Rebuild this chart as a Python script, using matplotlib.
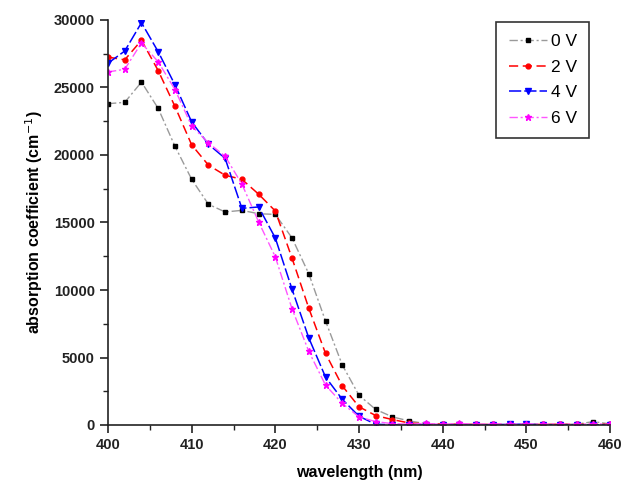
import matplotlib
matplotlib.use("Agg")
import matplotlib.pyplot as plt
from matplotlib.ticker import MultipleLocator

# wavelength grid (nm), one point every 2 nm
wavelength = list(range(400, 462, 2))

# absorption coefficient (cm^-1)
v0 = [23800, 23900, 25400, 23450, 20650, 18200, 16350, 15780, 15900, 15650,
      15600, 13850, 11200, 7700, 4450, 2200, 1150, 600, 300, 100,
      60, 40, 30, 30, 40, 30, 30, 40, 60, 250, 80]
v2 = [27250, 27050, 28500, 26250, 23600, 20750, 19250, 18500, 18200, 17100,
      15850, 12350, 8650, 5300, 2900, 1350, 700, 400, 150, 80,
      60, 50, 40, 40, 50, 40, 40, 50, 40, 60, 50]
v4 = [26800, 27700, 29800, 27650, 25200, 22450, 20800, 19750, 16050, 16150,
      13850, 10050, 6450, 3550, 1900, 650, 50, 20, 20, 20,
      20, 20, 20, 20, 40, 60, 20, 20, 20, 20, 20]
v6 = [26150, 26350, 28300, 26900, 24850, 22150, 20900, 19900, 17850, 15050,
      12450, 8600, 5450, 2950, 1600, 600, 250, 100, 60, 120,
      40, 120, 40, 100, 40, 100, 40, 100, 40, 100, 40]

labels = ["0 V", "2 V", "4 V", "6 V"]

fig = plt.figure(figsize=(6.33, 4.88), dpi=100)
ax = fig.add_axes([108 / 633, 63 / 488, 502 / 633, 405 / 488])

ax.plot(wavelength, v0, color="#9a9a9a", ls=(0, (6, 2, 1.5, 2)), lw=1.0,
        marker="s", ms=3.5, mfc="black", mec="black", label=labels[0])
ax.plot(wavelength, v2, color="red", ls=(0, (6, 3)), lw=1.1,
        marker="o", ms=3.5, mfc="red", mec="red", label=labels[1])
ax.plot(wavelength, v4, color="blue", ls=(0, (8, 2)), lw=1.1,
        marker="v", ms=4.5, mfc="blue", mec="blue", label=labels[2])
ax.plot(wavelength, v6, color="#ff55ff", ls=(0, (6, 2, 1.5, 2)), lw=1.0,
        marker="*", ms=5, mfc="magenta", mec="magenta", label=labels[3])

ax.set_xlim(400, 460)
ax.set_ylim(0, 30000)
ax.xaxis.set_major_locator(MultipleLocator(10))
ax.xaxis.set_minor_locator(MultipleLocator(5))
ax.yaxis.set_major_locator(MultipleLocator(5000))
ax.yaxis.set_minor_locator(MultipleLocator(2500))

ax.spines["top"].set_visible(False)
ax.spines["right"].set_visible(False)
for s in ("left", "bottom"):
    ax.spines[s].set_linewidth(1.2)
    ax.spines[s].set_color("#222222")

ax.tick_params(which="major", direction="out", length=6, width=1.2,
               labelsize=10.5, colors="#222222")
ax.tick_params(which="minor", direction="out", length=3.5, width=1.0,
               colors="#222222")
for t in ax.get_xticklabels() + ax.get_yticklabels():
    t.set_fontweight("bold")
    t.set_family("Liberation Sans")

ax.set_xlabel("wavelength (nm)", fontsize=11.5, fontweight="bold",
              family="Liberation Sans", labelpad=9)
ax.set_ylabel("absorption coefficient (cm$^{-1}$)", fontsize=11.5,
              fontweight="bold", family="Liberation Sans", labelpad=6)

leg = ax.legend(loc="upper right", bbox_to_anchor=(0.959, 0.995),
                prop={"family": "Liberation Sans", "size": 12.5},
                frameon=True, fancybox=False, edgecolor="black",
                handlelength=2.2, handletextpad=0.25, borderpad=0.7,
                labelspacing=0.6, borderaxespad=0)
leg.get_frame().set_linewidth(1.2)

fig.savefig("out.png", dpi=100)
